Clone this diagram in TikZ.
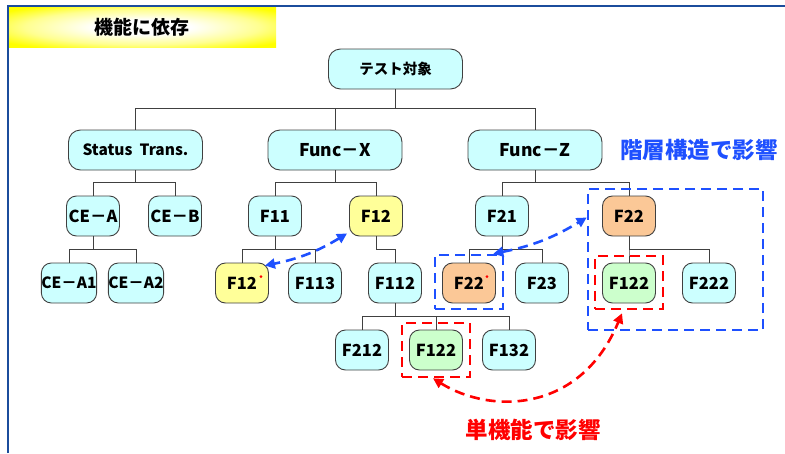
\documentclass[tikz,border=0pt]{standalone}
\usepackage{fontspec}
\setmainfont{Noto Sans CJK JP}
\usetikzlibrary{arrows.meta}
\definecolor{cyanfill}{HTML}{CCFFFF}
\definecolor{yelfill}{HTML}{FFFF99}
\definecolor{orafill}{HTML}{FBC897}
\definecolor{grnfill}{HTML}{CCFFCC}
\definecolor{edgegray}{HTML}{404040}
\definecolor{dblue}{HTML}{1E50FF}
\definecolor{framebl}{HTML}{1B4C9C}
\definecolor{dred}{HTML}{FF0000}
\definecolor{ltyel}{HTML}{FFFF90}
\pgfdeclareradialshading{titleshade}{\pgfpoint{0bp}{0bp}}{color(0bp)=(white); color(9bp)=(white); color(22bp)=(ltyel); color(32bp)=(yellow); color(50bp)=(yellow)}
\tikzset{
  box/.style={draw=edgegray, line width=0.9pt, rounded corners=10pt, minimum width=53pt,
    minimum height=40pt, inner sep=0pt, fill=cyanfill, font=\fontsize{16.5}{18}\selectfont\bfseries},
  topbox/.style={box, rounded corners=12pt, minimum width=134pt},
  tree/.style={draw=edgegray, line width=0.9pt},
  bluebox/.style={draw=dblue, line width=2.6pt, dash pattern=on 10pt off 6pt, inner sep=0pt},
  redbox/.style={draw=dred, line width=2.6pt, dash pattern=on 10pt off 6pt, inner sep=0pt},
  bluearrow/.style={draw=dblue, line width=2.6pt, dash pattern=on 10pt off 6pt,
    {Triangle[length=10pt,width=10pt]}-{Triangle[length=10pt,width=10pt]}},
  redarrow/.style={draw=dred, line width=2.6pt, dash pattern=on 10pt off 6pt,
    {Triangle[length=10pt,width=10pt]}-{Triangle[length=10pt,width=10pt]}},
  marker/.style={fill=dred, circle, inner sep=0pt, minimum size=3pt}
}
\begin{document}
\begin{tikzpicture}[x=1pt,y=-1pt]
\useasboundingbox (0,0) rectangle (785,453);
% frame and title
\draw[framebl, line width=2pt] (8,453) -- (8,6) -- (785,6);
\shade[shading=titleshade] (9,7) rectangle (276,47);
\node[font=\fontsize{19}{21}\selectfont\bfseries] (title) at (142,27) {機能に依存};
% nodes
\node[topbox, font=\fontsize{14.5}{16}\selectfont\bfseries] (root) at (395.5,69) {テスト対象};
\node[topbox, font=\fontsize{15.5}{17}\selectfont\bfseries] (status) at (135.5,150) {Status~~Trans.};
\node[topbox, font=\fontsize{17.5}{19}\selectfont\bfseries] (funcx) at (335,150) {Func－X};
\node[topbox, font=\fontsize{17.5}{19}\selectfont\bfseries] (funcz) at (535,150) {Func－Z};
\node[box] (cea) at (93,216) {CE－A};
\node[box] (ceb) at (175,216) {CE－B};
\node[box] (f11) at (275,216) {F11};
\node[box, fill=yelfill] (f12a) at (376,216) {F12};
\node[box] (f21) at (502,216) {F21};
\node[box, fill=orafill] (f22a) at (629,216) {F22};
\node[box, font=\fontsize{15.5}{17}\selectfont\bfseries] (cea1) at (69,283) {CE－A1};
\node[box, font=\fontsize{15.5}{17}\selectfont\bfseries] (cea2) at (136,283) {CE－A2};
\node[box, fill=yelfill] (f12b) at (242,283) {F12};
\node[box] (f113) at (315,283) {F113};
\node[box] (f112) at (395,283) {F112};
\node[box, fill=orafill] (f22b) at (469,283) {F22};
\node[box] (f23) at (542,283) {F23};
\node[box, fill=grnfill] (f122a) at (629,283) {F122};
\node[box] (f222) at (709,283) {F222};
\node[box] (f212) at (362,350) {F212};
\node[box, fill=grnfill] (f122b) at (436,350) {F122};
\node[box] (f132) at (509,350) {F132};
% markers
\node[marker] (m1) at ([xshift=-8pt,yshift=-14pt]f12b.north east) {};
\node[marker] (m2) at ([xshift=-9pt,yshift=-14pt]f22b.north east) {};
% tree connectors
\foreach \c in {status,funcx,funcz} \draw[tree] (root.south) -- ++(0,19) -| (\c);
\foreach \c in {cea,ceb} \draw[tree] (status.south) -- ++(0,12) -| (\c);
\foreach \c in {f11,f12a} \draw[tree] (funcx.south) -- ++(0,12) -| (\c);
\foreach \c in {f21,f22a} \draw[tree] (funcz.south) -- ++(0,12) -| (\c);
\foreach \c in {cea1,cea2} \draw[tree] (cea.south) -- ++(0,13) -| (\c);
\foreach \c in {f12b,f113} \draw[tree] (f11.south) -- ++(0,13) -| (\c);
\draw[tree] (f12a.south) -- ++(0,13) -| (f112);
\foreach \c in {f22b,f23} \draw[tree] (f21.south) -- ++(0,13) -| (\c);
\foreach \c in {f122a,f222} \draw[tree] (f22a.south) -- ++(0,13) -| (\c);
\foreach \c in {f212,f122b,f132} \draw[tree] (f112.south) -- ++(0,13) -| (\c);
% dashed boxes
\node[bluebox, minimum width=68pt, minimum height=54pt] (bb1) at (469,282) {};
\node[bluebox, minimum width=175pt, minimum height=141pt] (bb2) at (675.5,259.5) {};
\node[redbox, minimum width=68pt, minimum height=53pt] (rb1) at (629,282.5) {};
\node[redbox, minimum width=68pt, minimum height=54pt] (rb2) at (436,350) {};
% dashed arrows
\draw[bluearrow] ([xshift=-2pt,yshift=3pt]f12a.south west) to[bend left=10] ([xshift=-4pt,yshift=-3pt]f12b.north east);
\draw[bluearrow] ([xshift=-11pt]bb1.north east) to[bend right=10] ([yshift=42pt]bb2.west);
\draw[redarrow] ([xshift=-3pt]rb2.south) .. controls (490,414) and (580,414) .. ([xshift=-7pt,yshift=-3pt]rb1.south);
% labels
\node[font=\fontsize{22.5}{24}\selectfont\bfseries, text=dblue] (lblh) at (699,150) {階層構造で影響};
\node[font=\fontsize{22.5}{24}\selectfont\bfseries, text=dred] (lbls) at (533,430) {単機能で影響};
\end{tikzpicture}
\end{document}
